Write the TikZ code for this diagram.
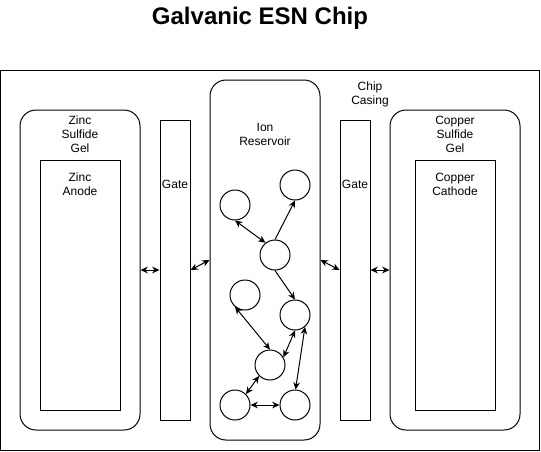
\documentclass[tikz,border=0pt]{standalone}
\usepackage{fontspec}
\setmainfont{Liberation Sans}
\usetikzlibrary{arrows.meta}

\begin{document}
\begin{tikzpicture}[x=0.75pt, y=-0.75pt, font=\fontsize{9}{10.5}\selectfont,
  box/.style={draw, line width=0.75pt, inner sep=0pt},
  gel/.style={box, rounded corners=12pt},
  ion/.style={draw, line width=0.75pt, circle, minimum size=22.5pt, inner sep=0pt},
  lbl/.style={align=center, inner sep=0pt},
  link/.style={line width=0.75pt, {Stealth[length=5.5pt,width=5pt]}-{Stealth[length=5.5pt,width=5pt]}},
  push/.style={line width=0.75pt, -{Stealth[length=5.5pt,width=5pt]}}]
  \useasboundingbox (0,0) rectangle (541,451);

  \node[font=\fontsize{18}{20}\selectfont\bfseries] (title) at (260,18) {Galvanic ESN Chip};

  % casing and the blocks inside it
  \node[box, minimum width=404.25pt, minimum height=285pt] (casing) at (270,260) {};
  \node[gel, minimum width=90pt, minimum height=240pt] (zincgel) at (80,270) {};
  \node[box, minimum width=60pt, minimum height=187.5pt] (anode) at (80,285) {};
  \node[box, minimum width=22.5pt, minimum height=225pt] (gateL) at (175,270) {};
  \node[gel, minimum width=82.5pt, minimum height=270pt] (reservoir) at (265,260) {};
  \node[box, minimum width=22.5pt, minimum height=225pt] (gateR) at (355,270) {};
  \node[gel, minimum width=97.5pt, minimum height=240pt] (cugel) at (455,270) {};
  \node[box, minimum width=60pt, minimum height=187.5pt] (cathode) at (455,285) {};

  \node[lbl] (casingtxt) at (370,94) {Chip\\Casing};
  \node[lbl] (zincgeltxt) at (80,134) {Zinc\\Sulfide\\Gel};
  \node[lbl] (anodetxt) at (80,184) {Zinc\\Anode};
  \node[lbl] (gateLtxt) at (175,184) {Gate};
  \node[lbl] (reservoirtxt) at (265,134) {Ion\\Reservoir};
  \node[lbl] (gateRtxt) at (355,184) {Gate};
  \node[lbl] (cugeltxt) at (455,134) {Copper\\Sulfide\\Gel};
  \node[lbl] (cathodetxt) at (455,184) {Copper\\Cathode};

  % ions
  \node[ion] (c1) at (235,205) {};
  \node[ion] (c2) at (295,185) {};
  \node[ion] (c3) at (275,255) {};
  \node[ion] (c4) at (295,315) {};
  \node[ion] (c5) at (245,295) {};
  \node[ion] (c6) at (270,365) {};
  \node[ion] (c7) at (235,405) {};
  \node[ion] (c8) at (295,405) {};

  \draw[link] (c1.south) -- (c3.128);
  \draw[push] (c3.north) -- (c2.south);
  \draw[push] (c3.south) -- (c4.north);
  \draw[link] (c5.-130) -- (c6.north);
  \draw[link] (c6.30) -- (c4.south);
  \draw[link] (c4.-50) -- (c8.88);
  \draw[link] (c7.north east) -- (c6.south west);
  \draw[link] (c7.east) -- (c8.west);

  % ion exchange across the gates
  \draw[link] (zincgel.east) -- (gateL.west);
  \draw[link] (gateL.east) -- (reservoir.west);
  \draw[link] (reservoir.east) -- (gateR.west);
  \draw[link] (gateR.east) -- (cugel.west);
\end{tikzpicture}
\end{document}
